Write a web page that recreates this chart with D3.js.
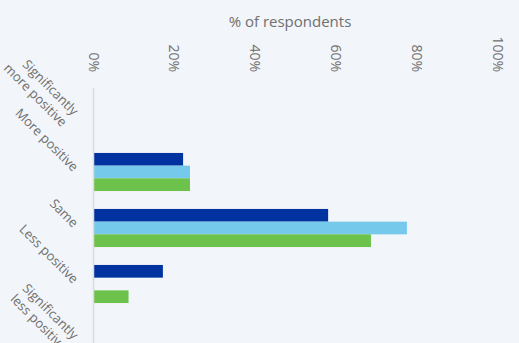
<!DOCTYPE html>
<html>
<head>
<meta charset="utf-8">
<script src="https://cdn.jsdelivr.net/npm/d3@7"></script>
<style>
  html, body { margin: 0; padding: 0; background: #f2f5f9; overflow: hidden; }
  svg { display: block; font-family: "Open Sans", sans-serif; }
</style>
</head>
<body>
<svg id="chart" width="519" height="343"></svg>
<script>
// Response categories (top to bottom)
const categories = [
  ["Significantly", "more positive"],
  ["More positive"],
  ["Same"],
  ["Less positive"],
  ["Significantly", "less positive"]
];
const categoryKeys = categories.map(c => c.join(" "));

// Three respondent groups, % of respondents per category
const seriesNames = ["Group A", "Group B", "Group C"];
const seriesA = [0, 22.3, 58.2, 17.3, 0];
const seriesB = [0, 24.0, 77.7, 0, 0];
const seriesC = [0, 24.0, 68.8, 8.8, 0];
const seriesColors = ["#0033a0", "#75caeb", "#6cc24a"];

const xTicks = [0, 20, 40, 60, 80, 100];
const axisTitle = "% of respondents";

const series = [seriesA, seriesB, seriesC];

const svg = d3.select("#chart");
const margin = { top: 88, left: 93 };
const plotW = 404, plotH = 280;

const g = svg.append("g").attr("transform", `translate(${margin.left},${margin.top})`);

const x = d3.scaleLinear().domain([0, 100]).range([0, plotW]);
const y = d3.scaleBand().domain(categoryKeys).range([0, plotH]).paddingInner(0.32).paddingOuter(0.16);
const ySub = d3.scaleBand().domain(seriesNames).range([0, y.bandwidth()]);

// axis title
svg.append("text")
  .attr("x", 290).attr("y", 27)
  .attr("text-anchor", "middle")
  .attr("fill", "#6f6f6f")
  .attr("font-size", 15)
  .text(axisTitle);

// top axis tick labels, rotated to read downward
const xAxis = d3.axisTop(x).tickValues(xTicks).tickFormat(d => d + "%").tickSize(0).tickPadding(0);
const xg = g.append("g").call(xAxis);
xg.select(".domain").remove();
xg.selectAll("text")
  .attr("fill", "#6f6f6f")
  .attr("font-size", 14)
  .attr("font-family", "Open Sans, sans-serif")
  .attr("transform", "translate(0,-16) rotate(90)")
  .attr("x", 0).attr("y", 0)
  .attr("dy", "0.35em")
  .attr("text-anchor", "end");

// bars
const groups = g.selectAll("g.cat").data(categoryKeys).enter().append("g")
  .attr("class", "cat")
  .attr("transform", d => `translate(0,${y(d)})`);

groups.selectAll("rect")
  .data((d, i) => series.map((s, j) => ({ name: seriesNames[j], value: s[i], color: seriesColors[j] })))
  .enter().append("rect")
  .attr("x", x(0))
  .attr("y", d => ySub(d.name))
  .attr("width", d => x(d.value) - x(0))
  .attr("height", ySub.bandwidth())
  .attr("fill", d => d.color);

// left axis line
g.append("line")
  .attr("x1", 0.5).attr("x2", 0.5)
  .attr("y1", 0).attr("y2", plotH)
  .attr("stroke", "#dcdcdc")
  .attr("stroke-width", 1.5);

// category labels, rotated 45 degrees; wrapped lines stack below the first
const labels = g.selectAll("g.lab").data(categories).enter().append("g")
  .attr("class", "lab")
  .attr("transform", (d, i) => `translate(-17,${y(categoryKeys[i]) + y.bandwidth() / 2 - 3}) rotate(45)`);

labels.each(function(lines) {
  const t = d3.select(this).append("text")
    .attr("text-anchor", "end")
    .attr("fill", "#6f6f6f")
    .attr("font-size", 13);
  lines.forEach((ln, k) => {
    t.append("tspan")
      .attr("x", 0)
      .attr("y", k * 16)
      .attr("dy", "0.35em")
      .text(ln);
  });
});
</script>
</body>
</html>
